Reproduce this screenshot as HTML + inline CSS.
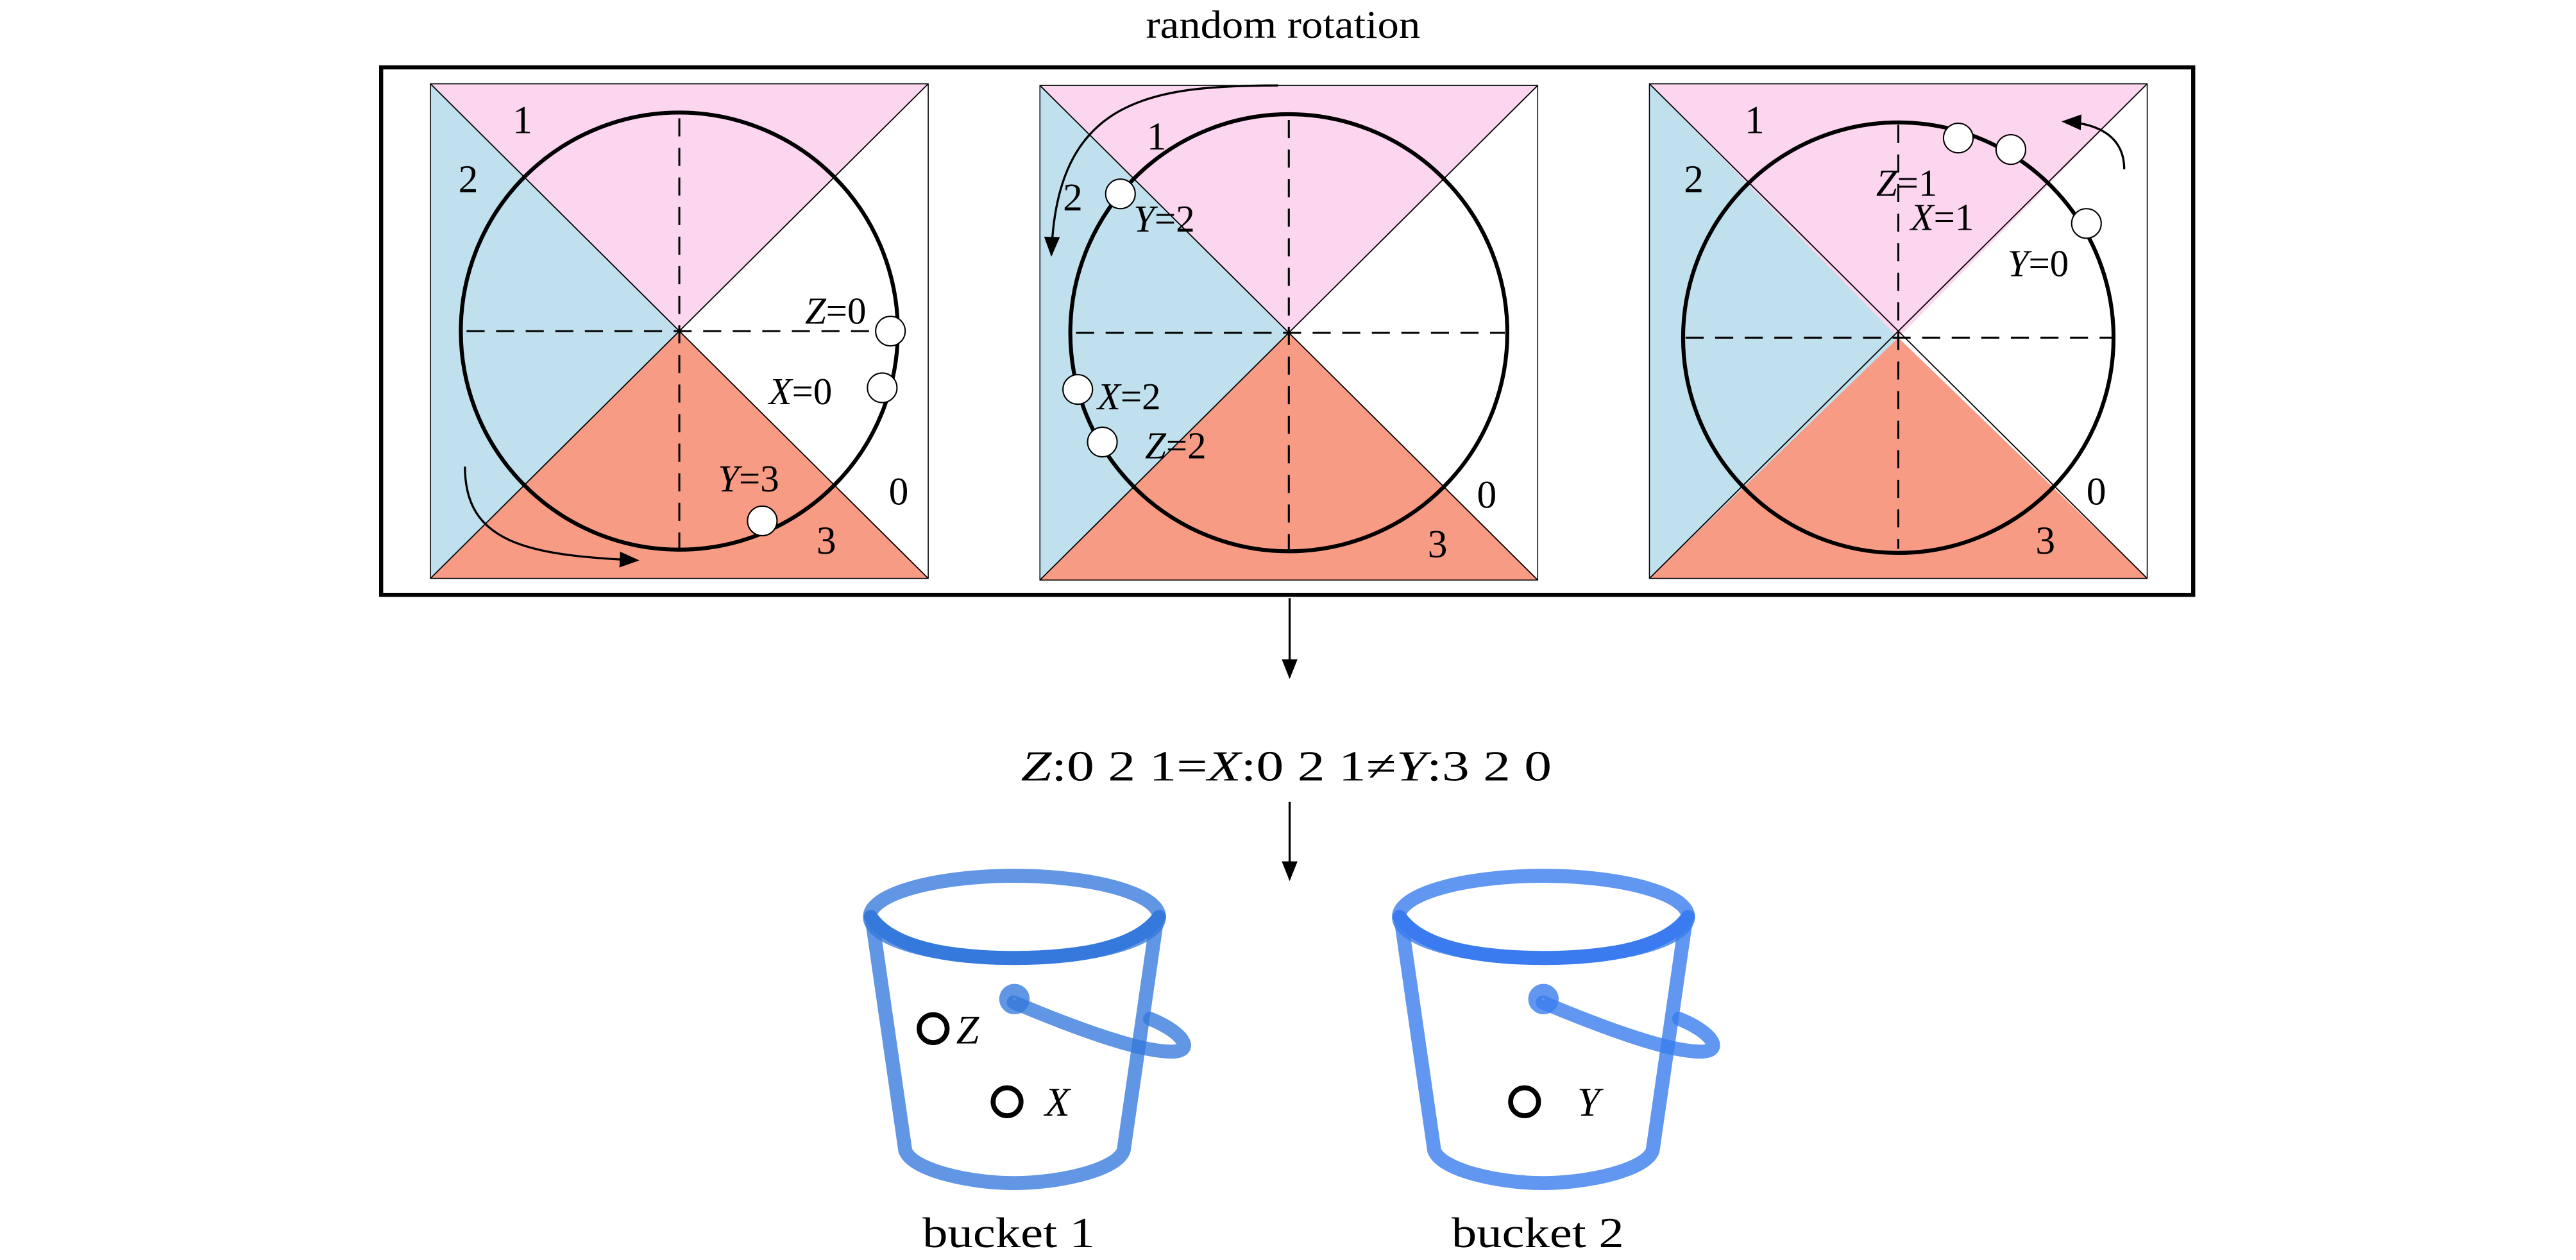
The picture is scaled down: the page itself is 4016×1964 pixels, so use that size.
<!DOCTYPE html>
<html><head><meta charset="utf-8"><style>html,body{margin:0;padding:0;background:#fff}svg{display:block}</style></head>
<body>
<svg width="4016" height="1964" viewBox="0 0 1568 766.8" preserveAspectRatio="none" xmlns="http://www.w3.org/2000/svg" font-family="Liberation Serif, serif">
<defs>
<marker id="ah2" viewBox="0 0 10 10" refX="9" refY="5" markerWidth="12" markerHeight="12" orient="auto" markerUnits="userSpaceOnUse"><path d="M0,1 L10,5 L0,9 z" fill="#000"/></marker>
</defs>
<text x="781" y="23" font-size="24" text-anchor="middle" textLength="167" lengthAdjust="spacingAndGlyphs">random rotation</text>
<rect x="232" y="41" width="1103" height="321" fill="none" stroke="#000" stroke-width="2.5"/>

<g>
<polygon points="262,51 565,51 413.5,201.5" fill="#fcd5ef"/>
<polygon points="262,51 262,352 413.5,201.5" fill="#bfe0ec"/>
<polygon points="262,352 565,352 413.5,201.5" fill="#f89b85"/>
<rect x="262" y="51" width="303" height="301" fill="none" stroke="#000" stroke-width="0.6"/>
<line x1="262" y1="51" x2="565" y2="352" stroke="#000" stroke-width="0.7"/>
<line x1="565" y1="51" x2="262" y2="352" stroke="#000" stroke-width="0.7"/>
<line x1="284" y1="201.5" x2="545" y2="201.5" stroke="#000" stroke-width="1.2" stroke-dasharray="11,7"/>
<line x1="413.5" y1="72" x2="413.5" y2="335" stroke="#000" stroke-width="1.2" stroke-dasharray="11,7"/>
<circle cx="413.5" cy="201.5" r="133" fill="none" stroke="#000" stroke-width="2.4"/>
</g>
<g font-size="24">
<text x="318" y="81" text-anchor="middle">1</text>
<text x="285" y="117" text-anchor="middle">2</text>
<text x="547" y="307" text-anchor="middle">0</text>
<text x="503" y="337" text-anchor="middle">3</text>
<text x="490" y="197" font-size="23"><tspan font-style="italic">Z</tspan>=0</text>
<text x="468" y="246" font-size="23"><tspan font-style="italic">X</tspan>=0</text>
<text x="437" y="299" font-size="23"><tspan font-style="italic">Y</tspan>=3</text>
</g>
<g fill="#fff" stroke="#000" stroke-width="0.8">
<circle cx="542" cy="201.5" r="9"/><circle cx="537" cy="236" r="9"/><circle cx="464" cy="317" r="9"/>
</g>
<path d="M283,284 C283,330 320,338 388,341" fill="none" stroke="#000" stroke-width="1.3" marker-end="url(#ah2)"/>

<g transform="translate(371,1)">
<polygon points="262,51 565,51 413.5,201.5" fill="#fcd5ef"/>
<polygon points="262,51 262,352 413.5,201.5" fill="#bfe0ec"/>
<polygon points="262,352 565,352 413.5,201.5" fill="#f89b85"/>
<rect x="262" y="51" width="303" height="301" fill="none" stroke="#000" stroke-width="0.6"/>
<line x1="262" y1="51" x2="565" y2="352" stroke="#000" stroke-width="0.7"/>
<line x1="565" y1="51" x2="262" y2="352" stroke="#000" stroke-width="0.7"/>
<line x1="284" y1="201.5" x2="545" y2="201.5" stroke="#000" stroke-width="1.2" stroke-dasharray="11,7"/>
<line x1="413.5" y1="72" x2="413.5" y2="335" stroke="#000" stroke-width="1.2" stroke-dasharray="11,7"/>
<circle cx="413.5" cy="201.5" r="133" fill="none" stroke="#000" stroke-width="2.4"/>
</g>
<g font-size="24">
<text x="704" y="91" text-anchor="middle">1</text>
<text x="653" y="128" text-anchor="middle">2</text>
<text x="905" y="309" text-anchor="middle">0</text>
<text x="875" y="339" text-anchor="middle">3</text>
<text x="690" y="141" font-size="23"><tspan font-style="italic">Y</tspan>=2</text>
<text x="668" y="249" font-size="23"><tspan font-style="italic">X</tspan>=2</text>
<text x="697" y="279" font-size="23"><tspan font-style="italic">Z</tspan>=2</text>
</g>
<g fill="#fff" stroke="#000" stroke-width="0.8">
<circle cx="682" cy="118" r="9"/><circle cx="656" cy="237" r="9"/><circle cx="671" cy="269" r="9"/>
</g>
<path d="M778,52 C700,52 643,60 640,155" fill="none" stroke="#000" stroke-width="1.3" marker-end="url(#ah2)"/>

<g transform="translate(742,4)">
<polygon points="262,47 565,47 413.5,201.5" fill="#fcd5ef"/>
<polygon points="262,47 262,348 413.5,201.5" fill="#bfe0ec"/>
<polygon points="262,348 565,348 413.5,201.5" fill="#f89b85"/>
<rect x="262" y="47" width="303" height="301" fill="none" stroke="#000" stroke-width="0.6"/>
<line x1="262" y1="47" x2="565" y2="348" stroke="#000" stroke-width="0.7"/>
<line x1="565" y1="47" x2="262" y2="348" stroke="#000" stroke-width="0.7"/>
<line x1="284" y1="201.5" x2="545" y2="201.5" stroke="#000" stroke-width="1.2" stroke-dasharray="11,7"/>
<line x1="413.5" y1="72" x2="413.5" y2="330" stroke="#000" stroke-width="1.2" stroke-dasharray="11,7"/>
<circle cx="413.5" cy="201.5" r="131" fill="none" stroke="#000" stroke-width="2.4"/>
</g>
<g font-size="24">
<text x="1068" y="81" text-anchor="middle">1</text>
<text x="1031" y="117" text-anchor="middle">2</text>
<text x="1276" y="307" text-anchor="middle">0</text>
<text x="1245" y="337" text-anchor="middle">3</text>
<text x="1142" y="119" font-size="23"><tspan font-style="italic">Z</tspan>=1</text>
<text x="1163" y="140" font-size="23"><tspan font-style="italic">X</tspan>=1</text>
<text x="1222" y="168" font-size="23"><tspan font-style="italic">Y</tspan>=0</text>
</g>
<g fill="#fff" stroke="#000" stroke-width="0.8">
<circle cx="1192" cy="84" r="9"/><circle cx="1224" cy="91" r="9"/><circle cx="1270" cy="136" r="9"/>
</g>
<path d="M1293,103 C1293,85 1280,75 1256,74" fill="none" stroke="#000" stroke-width="1.3" marker-end="url(#ah2)"/>

<line x1="785" y1="364" x2="785" y2="412" stroke="#000" stroke-width="1.3" marker-end="url(#ah2)"/>
<text x="783" y="475" font-size="26" text-anchor="middle" textLength="323" lengthAdjust="spacingAndGlyphs"><tspan font-style="italic">Z</tspan>:0 2 1=<tspan font-style="italic">X</tspan>:0 2 1≠<tspan font-style="italic">Y</tspan>:3 2 0</text>
<line x1="785" y1="488" x2="785" y2="535" stroke="#000" stroke-width="1.3" marker-end="url(#ah2)"/>

<g fill="none" stroke-linecap="round" stroke-linejoin="round">
<g stroke="rgba(52,121,221,0.78)" stroke-width="8.5">
<path d="M531,561 L551,700 C555,712 590,720 617,720 C645,720 680,712 684,700 L704,561"/>
<path d="M617,610 C660,628 695,640 713,640 C728,640 720,628 700,620"/>
<circle cx="617.5" cy="608" r="5"/>
</g>
<ellipse cx="617.5" cy="558" rx="88" ry="25" stroke="rgba(52,121,221,0.78)" stroke-width="8.5"/>
<path d="M530,558 C545,580 590,583 617.5,583 C645,583 690,580 705.5,558" stroke="#3679dc" stroke-width="8.5"/>
</g>
<circle cx="568" cy="626" r="8.5" fill="none" stroke="#000" stroke-width="3"/>
<circle cx="613" cy="670.5" r="8.5" fill="none" stroke="#000" stroke-width="3"/>
<text x="582" y="635" font-size="25" font-style="italic">Z</text>
<text x="636" y="679" font-size="25" font-style="italic">X</text>
<text x="614" y="759" font-size="26" text-anchor="middle" textLength="105" lengthAdjust="spacingAndGlyphs">bucket 1</text>

<g transform="translate(322,0)" fill="none" stroke-linecap="round" stroke-linejoin="round">
<g stroke="rgba(58,125,238,0.8)" stroke-width="8.5">
<path d="M531,561 L551,700 C555,712 590,720 617,720 C645,720 680,712 684,700 L704,561"/>
<path d="M617,610 C660,628 695,640 713,640 C728,640 720,628 700,620"/>
<circle cx="617.5" cy="608" r="5"/>
</g>
<ellipse cx="617.5" cy="558" rx="88" ry="25" stroke="rgba(58,125,238,0.8)" stroke-width="8.5"/>
<path d="M530,558 C545,580 590,583 617.5,583 C645,583 690,580 705.5,558" stroke="#3a7cef" stroke-width="8.5"/>
</g>
<circle cx="928" cy="670.5" r="8.5" fill="none" stroke="#000" stroke-width="3"/>
<text x="960" y="679" font-size="25" font-style="italic">Y</text>
<text x="936" y="759" font-size="26" text-anchor="middle" textLength="105" lengthAdjust="spacingAndGlyphs">bucket 2</text>
</svg>
</body></html>
